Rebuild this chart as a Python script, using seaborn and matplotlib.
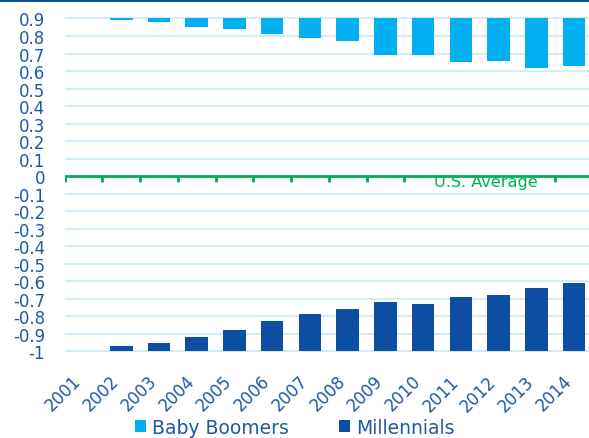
import numpy as np
import pandas as pd
import matplotlib
matplotlib.use("Agg")
import matplotlib.pyplot as plt
import matplotlib.transforms as mtransforms
from matplotlib.patches import Rectangle, Patch
import seaborn as sns

# ---- data ----
years = [str(y) for y in range(2001, 2015)]
boomers = [0.90, 0.89, 0.88, 0.85, 0.84, 0.81, 0.79, 0.77, 0.69, 0.69, 0.65, 0.66, 0.62, 0.63]
millennials = [-1.00, -0.97, -0.95, -0.92, -0.88, -0.83, -0.79, -0.76, -0.72, -0.73, -0.69, -0.68, -0.64, -0.61]
y_top = 0.9
y_bottom = -1.0
y_ticks = [round(v, 1) for v in np.arange(-1.0, 0.91, 0.1)]
series_names = ["Baby Boomers", "Millennials"]

C_LIGHT = "#00B0F0"
C_DARK = "#0B4EA2"
C_TEXT = "#1F58A8"
C_GREEN = "#00B050"
C_GRID = "#C8E8F6"

sns.set_theme(style="white")
plt.rcParams["font.family"] = ["DejaVu Sans"]

fig = plt.figure(figsize=(5.89, 4.39), dpi=100)
ax = fig.add_axes([0.1097, 0.1936, 0.897, 0.766])

df = pd.DataFrame({
    "year": years,
    "boomers_h": np.array(boomers) - y_top,
    "mill_h": np.array(millennials) - y_bottom,
})

sns.barplot(data=df, x="year", y="boomers_h", bottom=y_top, color=C_LIGHT,
            saturation=1, width=0.6, errorbar=None, ax=ax, zorder=3, linewidth=0)
sns.barplot(data=df, x="year", y="mill_h", bottom=y_bottom, color=C_DARK,
            saturation=1, width=0.6, errorbar=None, ax=ax, zorder=3, linewidth=0)

ax.set_xlim(-0.5, len(years) - 0.5)
ax.set_ylim(-1.01, 0.91)
ax.set_xlabel("")
ax.set_ylabel("")

for s in ax.spines.values():
    s.set_visible(False)

ax.set_yticks(y_ticks)
ax.set_yticklabels([("0" if v == 0 else f"{v:g}") for v in y_ticks])
ax.yaxis.grid(True, color=C_GRID, lw=1.2, zorder=0)
ax.set_axisbelow(True)
ax.tick_params(axis="y", length=0, pad=14, labelsize=12, labelcolor=C_TEXT)

ax.set_xticks(range(len(years)))
ax.set_xticklabels(years, rotation=45, ha="right", va="center", rotation_mode="anchor")
ax.tick_params(axis="x", length=0, pad=18, labelsize=12, labelcolor=C_TEXT)
offset = mtransforms.ScaledTranslation(-5 / 100, 0, fig.dpi_scale_trans)
for lbl in ax.get_xticklabels():
    lbl.set_transform(lbl.get_transform() + offset)

# U.S. average line with tick marks at category boundaries
bounds = np.arange(len(years) + 1) - 0.5
ax.vlines(bounds, 0, -0.033, color=C_GREEN, lw=2, zorder=4)
ax.text(10.65, -0.03, "U.S. Average", color=C_GREEN, fontsize=11.6,
        ha="center", va="center", zorder=5,
        bbox=dict(facecolor="white", edgecolor="none", pad=0.5))
ax.axhline(0, color=C_GREEN, lw=2, zorder=6)

# legend
handles = [Patch(facecolor=C_LIGHT, edgecolor="none"), Patch(facecolor=C_DARK, edgecolor="none")]
fig.legend(handles, series_names, loc="center", bbox_to_anchor=(0.5, 1 - 428.5 / 439),
           ncol=2, frameon=False, fontsize=13.5, labelcolor=C_TEXT,
           handlelength=0.6, handleheight=0.6, handletextpad=0.3,
           columnspacing=2.7, borderpad=0)

# top border line
fig.add_artist(Rectangle((0, 1 - 2.5 / 439), 1, 2.5 / 439, transform=fig.transFigure,
                         facecolor=C_DARK, edgecolor="none"))

fig.savefig("out.png", dpi=100)
